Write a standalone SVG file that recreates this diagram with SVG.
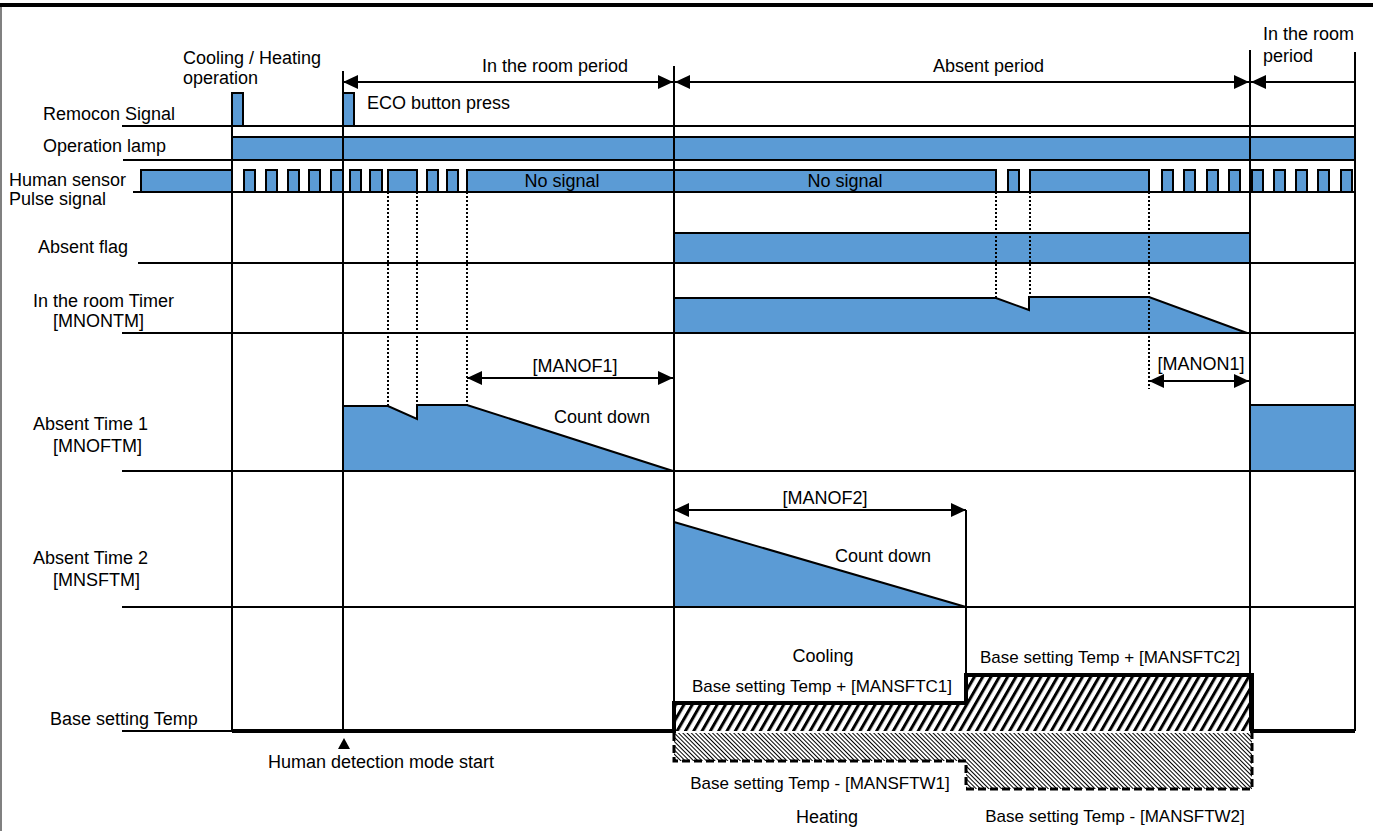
<svg xmlns="http://www.w3.org/2000/svg" width="1373" height="831" viewBox="0 0 1373 831">
<defs>
<style>
text{font-family:"Liberation Sans",Arial,sans-serif;font-size:18px;fill:#000}
.sm{font-size:17px}
.mid{text-anchor:middle}
.base{stroke:#000;stroke-width:2;fill:none}
.vl{stroke:#000;stroke-width:2;fill:none}
.dot{stroke:#000;stroke-width:2;stroke-dasharray:2,2;fill:none}
.sig{fill:#5B9BD5;stroke:#000;stroke-width:2}
.fillb{fill:#5B9BD5;stroke:none}
.edge{stroke:#000;stroke-width:2;fill:none}
.arr{stroke:#000;stroke-width:2;fill:none;marker-start:url(#ah);marker-end:url(#ah)}
</style>
<marker id="ah" viewBox="0 0 15 14" refX="15" refY="7" markerWidth="15" markerHeight="14" markerUnits="userSpaceOnUse" orient="auto-start-reverse">
<path d="M0,0 L15,7 L0,14 z" fill="#000"/>
</marker>
<pattern id="cool" width="7.2" height="10" patternUnits="userSpaceOnUse" patternTransform="rotate(30)">
<rect width="7.2" height="10" fill="#fff"/>
<line x1="1.5" y1="0" x2="1.5" y2="10" stroke="#000" stroke-width="3"/>
</pattern>
<pattern id="heat" width="3" height="10" patternUnits="userSpaceOnUse" patternTransform="rotate(-45)">
<rect width="3" height="10" fill="#fff"/>
<line x1="0.5" y1="0" x2="0.5" y2="10" stroke="#000" stroke-width="1"/>
</pattern>
</defs>
<rect width="1373" height="831" fill="#fff"/>
<rect x="0" y="3" width="1373" height="4" fill="#000"/>
<rect x="0" y="7" width="2" height="824" fill="#808080"/>

<g id="signal-shapes">
<!-- operation lamp -->
<rect class="sig" x="232" y="137" width="1123" height="23"/>
<!-- absent flag -->
<rect class="sig" x="674" y="233" width="576" height="30"/>
<!-- in room timer -->
<path class="fillb" d="M674,333 V298 H996 L1029,310 V297 H1149 L1247,333 Z"/>
<path class="edge" d="M674,298 H996 L1029,310 V297 H1149 L1247,333"/>
<!-- absent time 1 -->
<path class="fillb" d="M343,471 V406 H388 L417,419 V405 H467 L673,471 Z"/>
<path class="edge" d="M343,406 H388 L417,419 V405 H467 L673,471"/>
<rect class="sig" x="1250" y="405" width="105" height="66"/>
<!-- absent time 2 -->
<path class="fillb" d="M674,522 L966,607 H674 Z"/>
<path class="edge" d="M674,522 L966,607"/>
</g>

<g id="baselines">
<line class="base" x1="122" y1="126" x2="1355" y2="126"/>
<line class="base" x1="123" y1="160" x2="1355" y2="160"/>
<line class="base" x1="133" y1="192" x2="1355" y2="192"/>
<line class="base" x1="138" y1="263" x2="1355" y2="263"/>
<line class="base" x1="122" y1="333" x2="1355" y2="333"/>
<line class="base" x1="122" y1="471" x2="1355" y2="471"/>
<line class="base" x1="122" y1="607" x2="1355" y2="607"/>
<line class="base" x1="122" y1="731" x2="232" y2="731"/>
</g>

<g id="remocon-signal">
<rect class="sig" x="232" y="93" width="11" height="33"/>
<rect class="sig" x="343" y="93" width="11" height="33"/>
</g>

<g id="human-sensor">
<rect class="sig" x="141" y="170" width="91" height="22"/>
<rect class="sig" x="244" y="170" width="11" height="22"/>
<rect class="sig" x="266" y="170" width="11" height="22"/>
<rect class="sig" x="288" y="170" width="11" height="22"/>
<rect class="sig" x="309" y="170" width="11" height="22"/>
<rect class="sig" x="331" y="170" width="12" height="22"/>
<rect class="sig" x="350" y="170" width="11" height="22"/>
<rect class="sig" x="370" y="170" width="12" height="22"/>
<rect class="sig" x="388" y="170" width="29" height="22"/>
<rect class="sig" x="427" y="170" width="11" height="22"/>
<rect class="sig" x="447" y="170" width="11" height="22"/>
<rect class="sig" x="467" y="170" width="529" height="22"/>
<rect class="sig" x="1008" y="170" width="11" height="22"/>
<rect class="sig" x="1030" y="170" width="119" height="22"/>
<rect class="sig" x="1162" y="170" width="11" height="22"/>
<rect class="sig" x="1184" y="170" width="11" height="22"/>
<rect class="sig" x="1207" y="170" width="11" height="22"/>
<rect class="sig" x="1229" y="170" width="11" height="22"/>
<rect class="sig" x="1252" y="170" width="11" height="22"/>
<rect class="sig" x="1274" y="170" width="11" height="22"/>
<rect class="sig" x="1296" y="170" width="11" height="22"/>
<rect class="sig" x="1318" y="170" width="11" height="22"/>
<rect class="sig" x="1341" y="170" width="11" height="22"/>
<text class="mid" x="562" y="187">No signal</text>
<text class="mid" x="845" y="187">No signal</text>
</g>

<g id="base-setting-temp">
<path d="M674,731 V703 H966 V675 H1252 V731 Z" fill="url(#cool)"/>
<path d="M674,733 V761 H966 V789 H1252 V733 Z" fill="url(#heat)"/>
<path d="M674,733 V761 H966 V789 H1252 V733" fill="none" stroke="#000" stroke-width="3" stroke-dasharray="8,4"/>
<path d="M232,731 H674 V703 H966 V675 H1252 V731 H1355" fill="none" stroke="#000" stroke-width="4"/>
<polygon points="344,738 350,749 338,749" fill="#000"/>
</g>

<g id="connectors">
<line class="vl" x1="232" y1="93" x2="232" y2="731"/>
<line class="vl" x1="343" y1="71" x2="343" y2="731"/>
<line class="vl" x1="674" y1="66" x2="674" y2="731"/>
<line class="vl" x1="1250" y1="50" x2="1250" y2="731"/>
<line class="vl" x1="1355" y1="52" x2="1355" y2="731"/>
<line class="vl" x1="966" y1="510" x2="966" y2="703"/>
<line class="dot" x1="388" y1="192" x2="388" y2="406"/>
<line class="dot" x1="417" y1="192" x2="417" y2="406"/>
<line class="dot" x1="467" y1="192" x2="467" y2="405"/>
<line class="dot" x1="996" y1="192" x2="996" y2="298"/>
<line class="dot" x1="1030" y1="192" x2="1030" y2="297"/>
<line class="dot" x1="1149" y1="192" x2="1149" y2="389"/>
<line class="arr" x1="343" y1="82" x2="673" y2="82"/>
<line class="arr" x1="675" y1="82" x2="1249" y2="82"/>
<line x1="1251" y1="82" x2="1355" y2="82" stroke="#000" stroke-width="2" marker-start="url(#ah)"/>
<line class="arr" x1="467" y1="378" x2="673" y2="378"/>
<line class="arr" x1="1149" y1="381" x2="1249" y2="381"/>
<line class="arr" x1="674" y1="510" x2="966" y2="510"/>
</g>

<g id="labels">
<text x="183" y="64">Cooling / Heating</text>
<text x="183" y="84">operation</text>
<text x="367" y="109">ECO button press</text>
<text x="482" y="72">In the room period</text>
<text x="933" y="72">Absent period</text>
<text x="1263" y="40">In the room</text>
<text x="1263" y="62">period</text>
<text x="43" y="120">Remocon Signal</text>
<text x="43" y="152">Operation lamp</text>
<text x="9" y="186">Human sensor</text>
<text x="9" y="205">Pulse signal</text>
<text x="38" y="253">Absent flag</text>
<text x="33" y="307">In the room Timer</text>
<text x="53" y="327">[MNONTM]</text>
<text x="33" y="430">Absent Time 1</text>
<text x="53" y="452">[MNOFTM]</text>
<text x="33" y="564">Absent Time 2</text>
<text x="53" y="586">[MNSFTM]</text>
<text x="50" y="725">Base setting Temp</text>
<text class="mid" x="575" y="372">[MANOF1]</text>
<text class="mid" x="602" y="423">Count down</text>
<text class="mid" x="1201" y="370">[MANON1]</text>
<text class="mid" x="825" y="504">[MANOF2]</text>
<text class="mid" x="883" y="562">Count down</text>
<text class="mid" x="823" y="662">Cooling</text>
<text class="mid sm" x="822" y="692">Base setting Temp + [MANSFTC1]</text>
<text class="mid sm" x="1110" y="663">Base setting Temp + [MANSFTC2]</text>
<text class="mid sm" x="820" y="789">Base setting Temp - [MANSFTW1]</text>
<text class="mid" x="827" y="823">Heating</text>
<text class="mid sm" x="1115" y="822">Base setting Temp - [MANSFTW2]</text>
<text x="268" y="768">Human detection mode start</text>
</g>
</svg>
